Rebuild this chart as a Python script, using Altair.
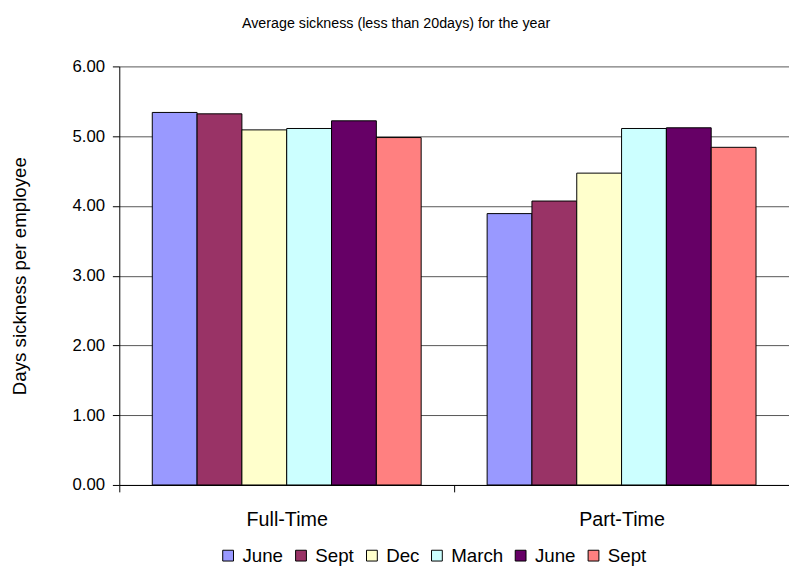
import altair as alt
import pandas as pd

categories = ["Full-Time", "Part-Time"]
series_keys = ["June1", "Sept1", "Dec", "March", "June2", "Sept2"]
series_labels = ["June", "Sept", "Dec", "March", "June", "Sept"]
full_time = [5.34, 5.32, 5.09, 5.11, 5.22, 4.98]
part_time = [3.89, 4.07, 4.47, 5.11, 5.12, 4.84]
colors = ["#9999FF", "#993366", "#FFFFCC", "#CCFFFF", "#660066", "#FF8080"]

rows = []
for i, k in enumerate(series_keys):
    rows.append({"cat": categories[0], "series": k, "value": full_time[i]})
    rows.append({"cat": categories[1], "series": k, "value": part_time[i]})
df = pd.DataFrame(rows)

label_map = "{" + ",".join(f"'{k}':'{l}'" for k, l in zip(series_keys, series_labels)) + "}"

font = "Liberation Sans"
W = 680
H = 425
PI = 0.197
PO = 0.0985
step = W / (2 - PI + 2 * PO)

chart = alt.Chart(df).mark_bar(stroke="black", strokeWidth=1).encode(
    x=alt.X("cat:N", sort=categories,
            scale=alt.Scale(paddingInner=PI, paddingOuter=PO),
            axis=alt.Axis(title=None, labelAngle=0, labelFont=font, labelFontSize=20,
                          labelColor="black", domainColor="black", tickColor="black",
                          tickSize=7, tickOffset=-step / 2, labelOffset=step / 2,
                          labelPadding=18)),
    xOffset=alt.XOffset("series:N", sort=series_keys),
    y=alt.Y("value:Q", scale=alt.Scale(domain=[0, 6]),
            axis=alt.Axis(title="Days sickness per employee", values=[0, 1, 2, 3, 4, 5, 6],
                          format=".2f", labelFont=font, labelFontSize=17, labelColor="black",
                          titleFont=font, titleFontSize=19, titleFontWeight="normal",
                          titleColor="black", titlePadding=43,
                          domainColor="black", tickColor="black", tickSize=7,
                          labelPadding=8, grid=True, gridColor="#555555")),
    color=alt.Color("series:N", sort=series_keys,
                    scale=alt.Scale(domain=series_keys, range=colors),
                    legend=alt.Legend(title=None, orient="none", direction="horizontal",
                                      legendX=101, legendY=487,
                                      labelExpr=f"{label_map}[datum.value]",
                                      symbolType="square", symbolSize=120,
                                      symbolStrokeColor="black", symbolStrokeWidth=1,
                                      labelFont=font, labelFontSize=19, labelColor="black",
                                      columnPadding=8, labelOffset=5)),
).properties(
    width=W, height=H,
    title=alt.TitleParams("Average sickness (less than 20days) for the year",
                          font=font, fontSize=14.5, fontWeight="normal", color="black",
                          offset=26, dx=-59),
    autosize=alt.AutoSizeParams(type="none"),
    padding={"left": 113, "top": 55, "right": 0, "bottom": 80},
).configure_view(stroke=None)

chart.save("out.html", embed_options={"renderer": "svg", "actions": False})
